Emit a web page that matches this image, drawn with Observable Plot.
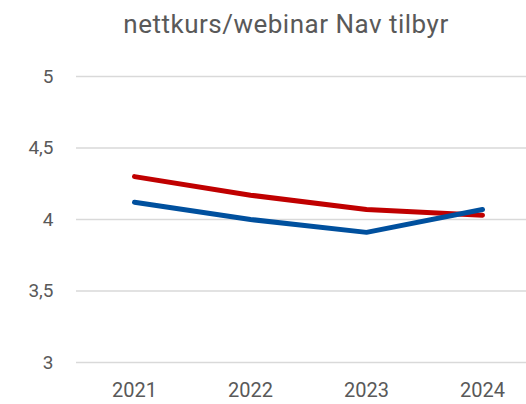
<!DOCTYPE html>
<html>
<head>
<meta charset="utf-8">
<script src="https://cdn.jsdelivr.net/npm/d3@7"></script>
<script src="https://cdn.jsdelivr.net/npm/@observablehq/plot@0.6"></script>
<style>
  html, body { margin: 0; padding: 0; background: #fff; }
  #wrap { width: 526px; height: 404px; position: relative; overflow: hidden; font-family: Roboto, sans-serif; }
  #title { position: absolute; left: 0; top: 9px; width: 572px; text-align: center; font-size: 26px; letter-spacing: 0.5px; line-height: 30px; color: #595959; }
  #chart { position: absolute; left: 0; top: 50px; }
</style>
</head>
<body>
<div id="wrap">
  <div id="title">nettkurs/webinar Nav tilbyr</div>
  <div id="chart"></div>
</div>
<script>
const years = ["2021", "2022", "2023", "2024"];
const seriesRed = [4.30, 4.17, 4.07, 4.03];
const seriesBlue = [4.12, 4.00, 3.91, 4.07];
const yTicks = [3, 3.5, 4, 4.5, 5];

const data = [
  ...years.map((y, i) => ({year: y, value: seriesRed[i], s: "red"})),
  ...years.map((y, i) => ({year: y, value: seriesBlue[i], s: "blue"}))
];

const fmt = d => String(d).replace(".", ",");

const plot = Plot.plot({
  width: 526,
  height: 354,
  marginLeft: 76,
  marginRight: 0,
  marginTop: 26,
  marginBottom: 42,
  style: {fontFamily: "Roboto, sans-serif", fontSize: "19px", color: "#595959", background: "#fff"},
  x: {type: "point", domain: years, range: [133.5, 483], padding: 0, label: null},
  y: {domain: [3, 5], label: null},
  marks: [
    Plot.gridY(yTicks, {stroke: "#d9d9d9", strokeOpacity: 1, strokeWidth: 1.5}),
    Plot.axisY(yTicks, {tickSize: 0, tickPadding: 23, tickFormat: fmt, fill: "#595959", fontSize: 19}),
    Plot.axisX(years, {tickSize: 0, tickPadding: 20, fill: "#595959", fontSize: 20}),
    Plot.line(data.filter(d => d.s === "red"), {x: "year", y: "value", stroke: "#C00000", strokeWidth: 5, strokeLinecap: "round", strokeLinejoin: "round"}),
    Plot.line(data.filter(d => d.s === "blue"), {x: "year", y: "value", stroke: "#00509E", strokeWidth: 5, strokeLinecap: "round", strokeLinejoin: "round"})
  ]
});
document.getElementById("chart").appendChild(plot);
</script>
</body>
</html>
